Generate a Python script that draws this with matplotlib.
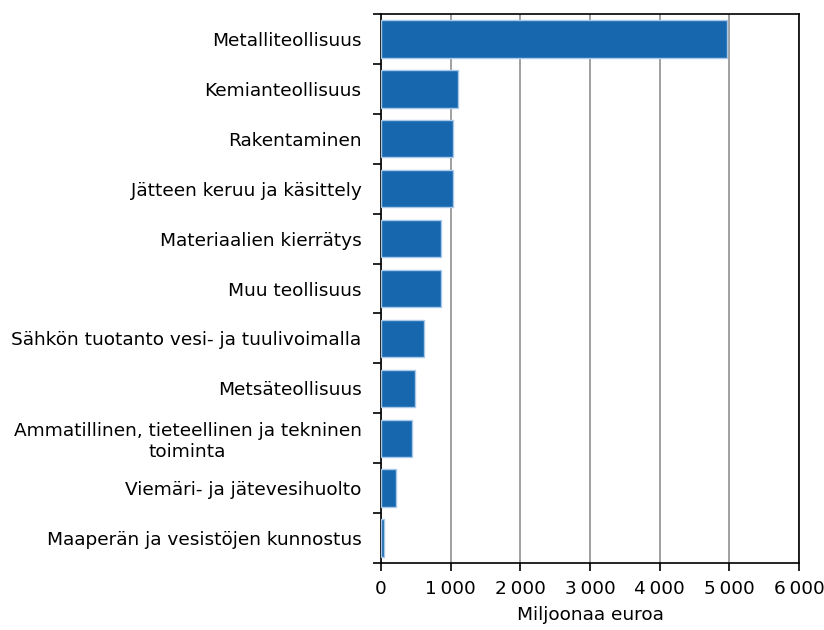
import numpy as np
import matplotlib
matplotlib.use('Agg')
import matplotlib.pyplot as plt
from matplotlib.ticker import FixedLocator, FuncFormatter

categories = ['Metalliteollisuus', 'Kemianteollisuus', 'Rakentaminen',
              'Jätteen keruu ja käsittely', 'Materiaalien kierrätys',
              'Muu teollisuus', 'Sähkön tuotanto vesi- ja tuulivoimalla',
              'Metsäteollisuus',
              'Ammatillinen, tieteellinen ja tekninen\ntoiminta',
              'Viemäri- ja jätevesihuolto',
              'Maaperän ja vesistöjen kunnostus']
values = [4960, 1110, 1040, 1040, 857, 857, 622, 489, 445, 211, 48]
xticks = [0, 1000, 2000, 3000, 4000, 5000, 6000]

plt.rcParams['font.family'] = 'DejaVu Sans'

fig = plt.figure(figsize=(8.24, 6.3), dpi=100)
ax = fig.add_axes([0.4624, 0.1063, 0.5073, 0.8715])

pos = np.arange(len(categories))
ax.barh(pos, values, height=0.75, color='#1767ae', edgecolor='#a9c9ea',
        linewidth=1, zorder=3)

ax.set_ylim(len(categories) - 0.5, -0.5)
ax.set_xlim(0, 6000)
ax.set_xticks(xticks)
ax.xaxis.set_major_formatter(FuncFormatter(
    lambda v, p: '{:,.0f}'.format(v).replace(',', '\u2009')))
ax.grid(axis='x', color='#a0a0a0', linewidth=1.4, zorder=0)

ax.set_yticks(pos)
labels = ax.set_yticklabels(categories, fontsize=13.3)
for lb in labels:
    lb.set_multialignment('center')
ax.yaxis.set_minor_locator(FixedLocator(np.arange(-0.5, len(categories), 1)))
ax.tick_params(axis='y', which='major', length=0, pad=14)
ax.tick_params(axis='y', which='minor', length=6, width=1.2, direction='out')
ax.tick_params(axis='x', length=6, width=1.2, labelsize=13.3, pad=6)

for s in ax.spines.values():
    s.set_color('black')
    s.set_linewidth(1.2)

ax.set_xlabel('Miljoonaa euroa', fontsize=13.3, labelpad=6)

fig.savefig('out.png', dpi=100)
